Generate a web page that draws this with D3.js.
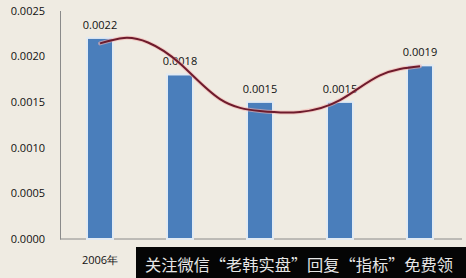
<!DOCTYPE html>
<html>
<head>
<meta charset="utf-8">
<script src="https://cdn.jsdelivr.net/npm/d3@7"></script>
<style>
  body { margin: 0; background: #efebe2; }
  svg { display: block; }
  .axis text { font-family: "Open Sans", sans-serif; font-size: 11px; fill: #111; }
  .axis path { stroke: #8a8a8a; }
</style>
</head>
<body>
<svg width="466" height="278"></svg>
<script>
// chart data
var years = ['2006年', '2007年', '2008年', '2009年', '2010年'];
var values = [0.0022, 0.0018, 0.0015, 0.0015, 0.0019];
var yTicks = [0, 0.0005, 0.0010, 0.0015, 0.0020, 0.0025];
// trend curve: category position and value
var trendPos = [0, 0.3, 0.6, 1, 1.5, 2, 2.5, 3, 3.5, 4];
var trendVal = [0.00214, 0.00220, 0.00215, 0.00192, 0.00153, 0.00140, 0.00139, 0.00152, 0.00179, 0.00189];
var bannerText = '关注微信“老韩实盘”回复“指标”免费领';

var svg = d3.select('svg');
var svgWidth = +svg.attr('width');
var svgHeight = +svg.attr('height');

var plot = {l: 60, r: 460, t: 10.5, b: 239};
var bannerX = 136, bannerY = 247;

svg.append('rect')
    .attr('width', svgWidth)
    .attr('height', svgHeight)
    .attr('fill', '#efebe2');

var xScale = d3.scaleBand()
    .domain(years)
    .range([plot.l, plot.r])
    .paddingInner(0.675)
    .paddingOuter(0.3375);

var yScale = d3.scaleLinear()
    .domain([0, 0.0025])
    .range([plot.b, plot.t]);

// position (0..4) -> centre of bar
var posScale = d3.scaleLinear()
    .domain([0, years.length - 1])
    .range([xScale(years[0]) + xScale.bandwidth() / 2,
            xScale(years[years.length - 1]) + xScale.bandwidth() / 2]);

// y axis
var yAxis = d3.axisLeft(yScale)
    .tickValues(yTicks)
    .tickSize(0)
    .tickPadding(15)
    .tickFormat(d3.format('.4f'));

svg.append('g')
    .attr('class', 'axis')
    .attr('transform', 'translate(' + plot.l + ',0)')
    .call(yAxis);

// x axis - labels under the black banner are hidden in the picture
var xAxis = d3.axisBottom(xScale)
    .tickSize(0)
    .tickPadding(17)
    .tickValues(years.filter(function(y) { return xScale(y) + xScale.bandwidth() < bannerX; }));

var xg = svg.append('g')
    .attr('class', 'axis')
    .attr('transform', 'translate(0,' + plot.b + ')')
    .call(xAxis);
xg.select('path').attr('d', 'M' + plot.l + ',0H' + (plot.r + 2));

// bars
svg.selectAll('.bar')
    .data(values)
    .enter()
    .append('rect')
    .attr('class', 'bar')
    .attr('x', function(d, i) { return xScale(years[i]); })
    .attr('y', function(d) { return yScale(d); })
    .attr('width', xScale.bandwidth())
    .attr('height', function(d) { return plot.b - yScale(d); })
    .attr('fill', '#4a7ebb')
    .attr('stroke', '#e2eaf2')
    .attr('stroke-width', 2);

// value labels
svg.selectAll('.val')
    .data(values)
    .enter()
    .append('text')
    .attr('class', 'val')
    .attr('x', function(d, i) { return xScale(years[i]) + xScale.bandwidth() / 2; })
    .attr('y', function(d) { return yScale(d) - 9; })
    .attr('text-anchor', 'middle')
    .style('font-family', '"Open Sans", sans-serif')
    .style('font-size', '11px')
    .attr('fill', '#111')
    .text(function(d) { return d3.format('.4f')(d); });

// trend curve
var trend = trendPos.map(function(p, i) { return [p, trendVal[i]]; });
var line = d3.line()
    .x(function(d) { return posScale(d[0]); })
    .y(function(d) { return yScale(d[1]); })
    .curve(d3.curveNatural);

svg.append('path')
    .attr('d', line(trend))
    .attr('fill', 'none')
    .attr('stroke', '#f3b0ab')
    .attr('stroke-opacity', 0.6)
    .attr('stroke-width', 4)
    .attr('stroke-linecap', 'round');

svg.append('path')
    .attr('d', line(trend))
    .attr('fill', 'none')
    .attr('stroke', '#6e1b2c')
    .attr('stroke-width', 2);

// watermark banner
svg.append('rect')
    .attr('x', bannerX)
    .attr('y', bannerY)
    .attr('width', svgWidth - bannerX)
    .attr('height', svgHeight - bannerY)
    .attr('fill', '#050505');

svg.append('text')
    .attr('x', 145)
    .attr('y', 271)
    .attr('textLength', 308)
    .attr('lengthAdjust', 'spacingAndGlyphs')
    .style('font-family', '"Noto Sans CJK SC", sans-serif')
    .style('font-size', '16px')
    .attr('fill', '#e6e6e6')
    .text(bannerText);
</script>
</body>
</html>
